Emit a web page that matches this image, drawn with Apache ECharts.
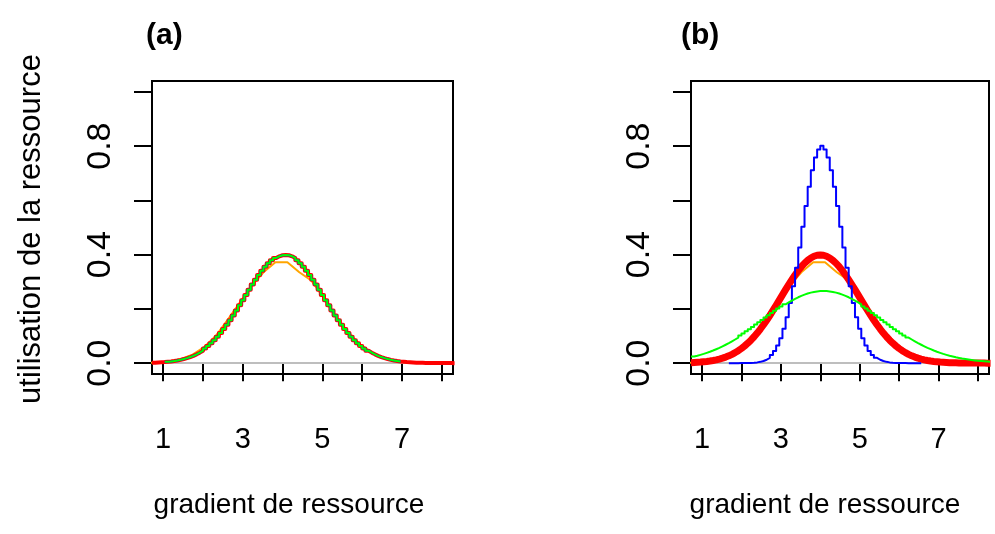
<!DOCTYPE html>
<html>
<head>
<meta charset="utf-8">
<script src="https://cdn.jsdelivr.net/npm/echarts@6/dist/echarts.min.js"></script>
<style>
html,body{margin:0;padding:0;background:#fff;}
#chart{width:995px;height:534px;}
</style>
</head>
<body>
<div id="chart"></div>
<script>
// ---------------- data ----------------
const panelTitles = ['(a)', '(b)'];
const xTitle = 'gradient de ressource';
const yTitle = 'utilisation de la ressource';
const xTickValues = [1, 2, 3, 4, 5, 6, 7, 8];
const xLabelValues = [1, 3, 5, 7];
const yTickValues = [0, 0.2, 0.4, 0.6, 0.8, 1.0];
const yLabelValues = [0, 0.4, 0.8];

// gradient positions for the stepped curves
const xGrid = [
  0.72,0.80,0.88,0.96,1.04,1.12,1.20,1.28,1.36,1.44,
  1.52,1.60,1.68,1.76,1.84,1.92,2.00,2.08,2.16,2.24,
  2.32,2.40,2.48,2.56,2.64,2.72,2.80,2.88,2.96,3.04,
  3.12,3.20,3.28,3.36,3.44,3.52,3.60,3.68,3.76,3.84,
  3.92,4.00,4.08,4.16,4.24,4.32,4.40,4.48,4.56,4.64,
  4.72,4.80,4.88,4.96,5.04,5.12,5.20,5.28,5.36,5.44,
  5.52,5.60,5.68,5.76,5.84,5.92,6.00,6.08,6.16,6.24,
  6.32,6.40,6.48,6.56,6.64,6.72,6.80,6.88,6.96,7.04,
  7.12,7.20,7.28,7.36,7.44,7.52,7.60,7.68,7.76,7.84,
  7.92,8.00,8.08,8.16,8.24,8.32
];
// red (a, b), blue (a), green (a): medium-width niche
const mediumUse = [
  0.0018,0.0024,0.0031,0.0039,0.0050,0.0063,0.0079,0.0099,0.0122,0.0151,
  0.0184,0.0224,0.0270,0.0325,0.0387,0.0459,0.0540,0.0632,0.0734,0.0848,
  0.0973,0.1109,0.1257,0.1415,0.1582,0.1758,0.1942,0.2131,0.2323,0.2516,
  0.2709,0.2897,0.3078,0.3251,0.3410,0.3555,0.3683,0.3790,0.3876,0.3939,
  0.3977,0.3989,0.3977,0.3939,0.3876,0.3790,0.3683,0.3555,0.3410,0.3251,
  0.3078,0.2897,0.2709,0.2516,0.2323,0.2131,0.1942,0.1758,0.1582,0.1415,
  0.1257,0.1109,0.0973,0.0848,0.0734,0.0632,0.0540,0.0459,0.0387,0.0325,
  0.0270,0.0224,0.0184,0.0151,0.0122,0.0099,0.0079,0.0063,0.0050,0.0039,
  0.0031,0.0024,0.0018,0.0014,0.0011,0.0008,0.0006,0.0005,0.0003,0.0003,
  0.0002,0.0001,0.0001,0.0001,0,0
];
// blue (b): narrow niche
const narrowUse = [
  0,0,0,0,0,0,0,0,0,0,
  0,0,0,0,0,0.0002,0.0002,0.0006,0.0010,0.0016,
  0.0028,0.0048,0.0078,0.0126,0.0198,0.0302,0.0448,0.0650,0.0918,0.1264,
  0.1696,0.2218,0.2830,0.3516,0.4262,0.5032,0.5794,0.6502,0.7110,0.7580,
  0.7878,0.8010,0.7878,0.7580,0.7110,0.6502,0.5794,0.5032,0.4262,0.3516,
  0.2830,0.2218,0.1696,0.1264,0.0918,0.0650,0.0448,0.0302,0.0198,0.0126,
  0.0078,0.0048,0.0028,0.0016,0.0010,0.0006,0.0002,0.0002,0,0,
  0,0,0,0,0,0,0,0,0,0,
  0,0,0,0,0,0,0,0,0,0,
  0,0,0,0,0,0
];
// green (b): wide niche
const wideUse = [
  0.0244,0.0273,0.0306,0.0341,0.0380,0.0421,0.0466,0.0514,0.0565,0.0620,
  0.0678,0.0739,0.0804,0.0872,0.0943,0.1017,0.1093,0.1172,0.1253,0.1336,
  0.1420,0.1506,0.1592,0.1678,0.1763,0.1848,0.1931,0.2013,0.2091,0.2167,
  0.2239,0.2307,0.2370,0.2428,0.2481,0.2527,0.2567,0.2600,0.2626,0.2645,
  0.2656,0.2660,0.2656,0.2645,0.2626,0.2600,0.2567,0.2527,0.2481,0.2428,
  0.2370,0.2307,0.2239,0.2167,0.2091,0.2013,0.1931,0.1848,0.1763,0.1678,
  0.1592,0.1506,0.1420,0.1336,0.1253,0.1172,0.1093,0.1017,0.0943,0.0872,
  0.0804,0.0739,0.0678,0.0620,0.0565,0.0514,0.0466,0.0421,0.0380,0.0341,
  0.0306,0.0273,0.0244,0.0216,0.0192,0.0169,0.0149,0.0131,0.0115,0.0100,
  0.0087,0.0076,0.0066,0.0057,0.0049,0.0042
];
// orange (both panels): coarser polyline
const xOrange = [0.52,0.82,1.12,1.42,1.72,2.02,2.32,2.62,2.92,3.22,3.52,3.82,4.12,4.42,4.72,5.02,5.32,5.62,5.92,6.22,6.52,6.82,7.12,7.42,7.72,8.02,8.32];
const orangeUse = [0.001,0.002,0.006,0.014,0.030,0.058,0.100,0.160,0.222,0.285,0.335,0.372,0.372,0.335,0.305,0.243,0.175,0.118,0.072,0.040,0.020,0.009,0.004,0.001,0.000,0.000,0.000];

// ranges over which some curves are drawn
const spanA = [0.98, 7.02];      // blue & green in (a)
const spanBlueB = [1.66, 6.58];  // blue in (b)
const spanFull = [0, 10];

// ---------------- chart ----------------
const FONT = "'Liberation Sans', Arial, Helvetica, sans-serif";
const C = {red:'#FF0000', blue:'#0000FF', green:'#00FF00', orange:'#FFA500', gray:'#BEBEBE'};

function pairs(xs, ys, span) {
  const out = [];
  for (let i = 0; i < xs.length; i++) {
    if (xs[i] >= span[0] && xs[i] <= span[1]) out.push([xs[i], ys[i]]);
  }
  return out;
}

function xAxisCfg(gi) {
  return {
    type: 'value', gridIndex: gi, min: 0.72, max: 8.28,
    axisLine: {show: false}, splitLine: {show: false},
    axisTick: {show: true, customValues: xTickValues, length: 18, lineStyle: {color: '#000', width: 2}},
    axisLabel: {customValues: xLabelValues, margin: 51, fontSize: 29, color: '#000', fontFamily: FONT}
  };
}
function yAxisCfg(gi) {
  return {
    type: 'value', gridIndex: gi, min: -0.04, max: 1.04,
    axisLine: {show: false}, splitLine: {show: false},
    axisTick: {show: true, customValues: yTickValues, length: 18, lineStyle: {color: '#000', width: 2}},
    axisLabel: {customValues: yLabelValues, rotate: 90, margin: 34, fontSize: 34, color: '#000', fontFamily: FONT,
      formatter: v => Number(v).toFixed(1)}
  };
}
function curveSeries(gi, data, color, width, z, stepped, withZeroLine) {
  const s = {
    type: 'line', xAxisIndex: gi, yAxisIndex: gi, data: data, step: stepped ? 'end' : false,
    symbol: 'none', showSymbol: false, silent: true, animation: false, z: z,
    lineStyle: {color: color, width: width, join: 'round', cap: 'butt'}, clip: true
  };
  if (withZeroLine) {
    s.markLine = {silent: true, symbol: 'none', animation: false, label: {show: false},
      lineStyle: {color: C.gray, type: 'solid', width: 2}, data: [{yAxis: 0}], z: 1};
  }
  return s;
}

const option = {
  backgroundColor: '#fff',
  animation: false,
  grid: [
    {left: 152, top: 81, width: 301, height: 293, show: true, borderColor: '#000', borderWidth: 2, backgroundColor: 'transparent'},
    {left: 691, top: 81, width: 298, height: 293, show: true, borderColor: '#000', borderWidth: 2, backgroundColor: 'transparent'}
  ],
  xAxis: [xAxisCfg(0), xAxisCfg(1)],
  yAxis: [yAxisCfg(0), yAxisCfg(1)],
  series: [
    // panel (a)
    curveSeries(0, pairs(xOrange, orangeUse, spanFull), C.orange, 2, 2, false),
    curveSeries(0, pairs(xGrid, mediumUse, spanFull), C.red, 4, 3, true, true),
    curveSeries(0, pairs(xGrid, mediumUse, spanA), C.blue, 2, 4, true),
    curveSeries(0, pairs(xGrid, mediumUse, spanA), C.green, 2, 5, true),
    // panel (b)
    curveSeries(1, pairs(xOrange, orangeUse, spanFull), C.orange, 2, 2, false),
    curveSeries(1, pairs(xGrid, mediumUse, spanFull), C.red, 7, 3, false, true),
    curveSeries(1, pairs(xGrid, narrowUse, spanBlueB), C.blue, 2, 4, true),
    curveSeries(1, pairs(xGrid, wideUse, spanFull), C.green, 2, 5, true)
  ],
  graphic: [
    {type: 'text', left: 146, top: 21, style: {text: panelTitles[0], font: 'bold 30px ' + FONT, fill: '#000'}},
    {type: 'text', left: 681, top: 21, style: {text: panelTitles[1], font: 'bold 30px ' + FONT, fill: '#000'}},
    {type: 'text', x: 289, y: 505, style: {text: xTitle, font: '28px ' + FONT, fill: '#000', align: 'center', verticalAlign: 'middle'}},
    {type: 'text', x: 825, y: 505, style: {text: xTitle, font: '28px ' + FONT, fill: '#000', align: 'center', verticalAlign: 'middle'}},
    {type: 'text', x: 31, y: 229, rotation: Math.PI / 2, style: {text: yTitle, font: '31px ' + FONT, fill: '#000', align: 'center', verticalAlign: 'middle'}}
  ]
};

const chart = echarts.init(document.getElementById('chart'), null, {renderer: 'canvas'});
chart.setOption(option);
</script>
</body>
</html>
